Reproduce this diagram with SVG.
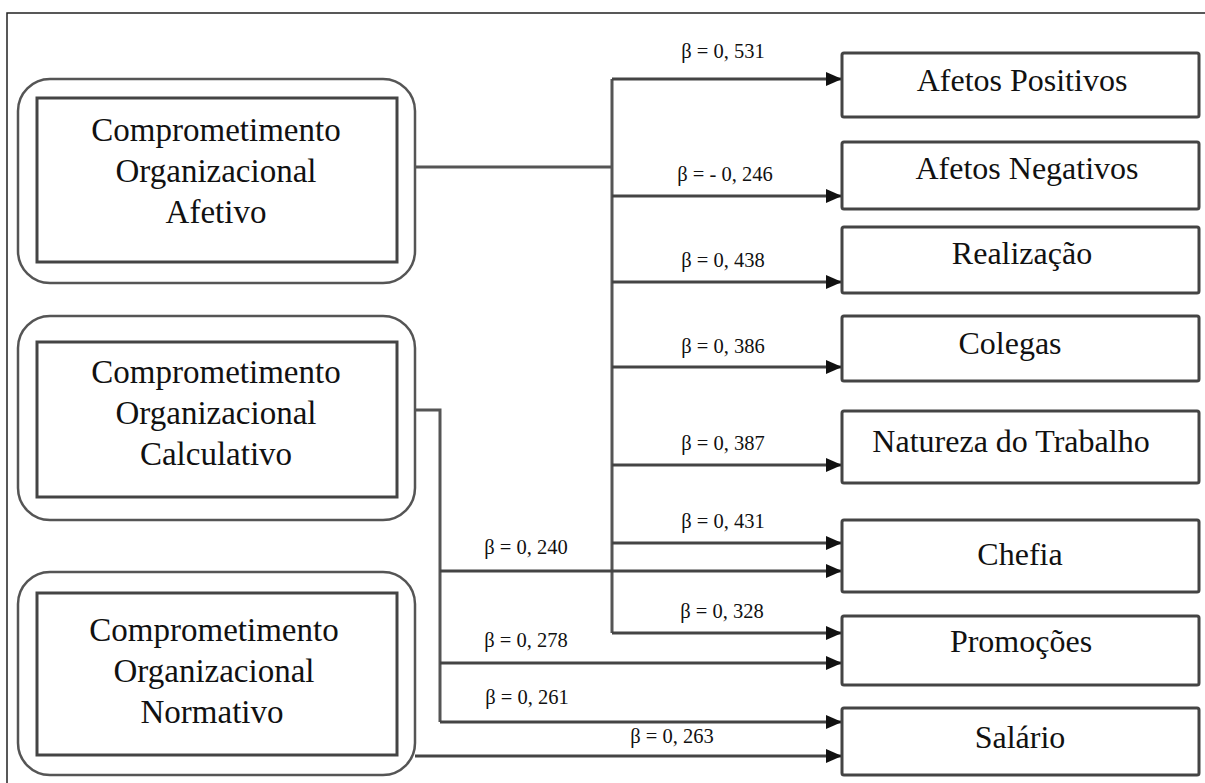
<svg xmlns="http://www.w3.org/2000/svg" width="1205" height="783" viewBox="0 0 1205 783">
<defs>
<marker id="arr" markerWidth="16" markerHeight="14" refX="16" refY="7" orient="auto" markerUnits="userSpaceOnUse">
<path d="M0,0 L16,7 L0,14 Z" fill="#111"/>
</marker>
<style>
.frame{stroke:#222;stroke-width:1.5;fill:none}
.outer{fill:none;stroke:#555;stroke-width:2.5}
.inner{fill:#fff;stroke:#444;stroke-width:3}
.tbox{fill:#fff;stroke:#444;stroke-width:3}
.big{font-family:'Liberation Serif','DejaVu Serif',serif;font-size:32px;fill:#111;text-anchor:middle}
.lft{font-size:33px}
.lbl{font-family:'Liberation Serif','DejaVu Serif',serif;font-size:20.5px;fill:#111;text-anchor:middle}
.ln{fill:none;stroke:#555;stroke-width:3}
.la{fill:none;stroke:#444;stroke-width:3;marker-end:url(#arr)}
</style>
</defs>
<rect width="1205" height="783" fill="#fff"/>
<path class="frame" d="M7,783 L7,13 L1205,13"/>

<g id="connectors">
<path class="ln" d="M415,167 H612 M612,79 V633"/>
<path class="la" d="M612,79 H842"/>
<path class="la" d="M612,196 H842"/>
<path class="la" d="M612,282 H842"/>
<path class="la" d="M612,367 H842"/>
<path class="la" d="M612,465 H842"/>
<path class="la" d="M612,543 H842"/>
<path class="la" d="M612,633 H842"/>
<path class="ln" d="M415,410 H440 V722"/>
<path class="la" d="M440,571 H842"/>
<path class="la" d="M440,663 H842"/>
<path class="la" d="M440,722 H842"/>
<path class="la" d="M415,756 H842"/>
<text class="lbl" x="723" y="58">β = 0, 531</text>
<text class="lbl" x="725" y="181">β = - 0, 246</text>
<text class="lbl" x="723" y="267">β = 0, 438</text>
<text class="lbl" x="723" y="353">β = 0, 386</text>
<text class="lbl" x="723" y="450">β = 0, 387</text>
<text class="lbl" x="723" y="528">β = 0, 431</text>
<text class="lbl" x="722" y="618">β = 0, 328</text>
<text class="lbl" x="526" y="554">β = 0, 240</text>
<text class="lbl" x="526" y="647">β = 0, 278</text>
<text class="lbl" x="527" y="704">β = 0, 261</text>
<text class="lbl" x="672" y="743">β = 0, 263</text>
</g>

<g id="afetivo">
<rect class="outer" x="18" y="79" width="397" height="204" rx="32"/>
<rect class="inner" x="37" y="98" width="360" height="164"/>
<text class="big lft" x="216" y="141">Comprometimento</text>
<text class="big lft" x="216" y="182">Organizacional</text>
<text class="big lft" x="216" y="223">Afetivo</text>
</g>
<g id="calculativo">
<rect class="outer" x="18" y="316" width="397" height="204" rx="32"/>
<rect class="inner" x="37" y="342" width="360" height="155"/>
<text class="big lft" x="216" y="383">Comprometimento</text>
<text class="big lft" x="216" y="424">Organizacional</text>
<text class="big lft" x="216" y="465">Calculativo</text>
</g>
<g id="normativo">
<rect class="outer" x="18" y="572" width="397" height="203" rx="32"/>
<rect class="inner" x="37" y="593" width="360" height="162"/>
<text class="big lft" x="214" y="641">Comprometimento</text>
<text class="big lft" x="214" y="682">Organizacional</text>
<text class="big lft" x="212" y="723">Normativo</text>
</g>

<g id="afetos-positivos">
<rect class="tbox" x="842" y="53" width="357" height="64" rx="2"/>
<text class="big" x="1022" y="91">Afetos Positivos</text>
</g>
<g id="afetos-negativos">
<rect class="tbox" x="842" y="142" width="357" height="67" rx="2"/>
<text class="big" x="1027" y="179">Afetos Negativos</text>
</g>
<g id="realizacao">
<rect class="tbox" x="842" y="227" width="357" height="66" rx="2"/>
<text class="big" x="1022" y="264">Realização</text>
</g>
<g id="colegas">
<rect class="tbox" x="842" y="316" width="357" height="65" rx="2"/>
<text class="big" x="1010" y="354">Colegas</text>
</g>
<g id="natureza">
<rect class="tbox" x="842" y="411" width="357" height="72" rx="2"/>
<text class="big" x="1011" y="452">Natureza do Trabalho</text>
</g>
<g id="chefia">
<rect class="tbox" x="842" y="520" width="357" height="72" rx="2"/>
<text class="big" x="1020" y="565">Chefia</text>
</g>
<g id="promocoes">
<rect class="tbox" x="842" y="616" width="357" height="69" rx="2"/>
<text class="big" x="1021" y="652">Promoções</text>
</g>
<g id="salario">
<rect class="tbox" x="842" y="708" width="357" height="67" rx="2"/>
<text class="big" x="1020" y="748">Salário</text>
</g>
</svg>
